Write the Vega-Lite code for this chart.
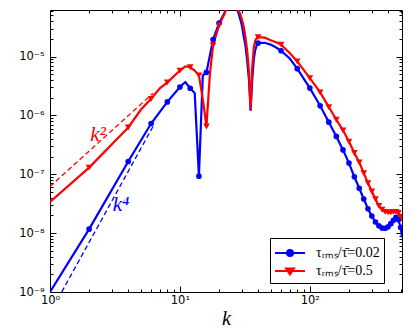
{
  "$schema": "https://vega.github.io/schema/vega-lite/v6.json",
  "width": 352,
  "height": 282,
  "autosize": {"type": "none"},
  "padding": {"left": 50, "top": 10, "right": 13, "bottom": 40},
  "background": "white",
  "config": {
    "view": {"stroke": null},
    "axis": {"grid": false, "labelFont": "DejaVu Sans", "labelFontSize": 11.5, "labelColor": "black", "domainColor": "black", "domainWidth": 1, "tickColor": "black", "tickWidth": 1, "labelFlush": false, "labelOverlap": false}
  },
  "datasets": {
    "spec": [
      {"k":1,"v":1.0e-9,"s":"0.02","m":0},{"k":2,"v":1.17e-8,"s":"0.02","m":1},{"k":4,"v":1.65e-7,"s":"0.02","m":1},{"k":6,"v":7.3e-7,"s":"0.02","m":1},{"k":8,"v":1.7e-6,"s":"0.02","m":1},{"k":10,"v":3.05e-6,"s":"0.02","m":1},{"k":11,"v":3.7e-6,"s":"0.02","m":0},{"k":12,"v":2.9e-6,"s":"0.02","m":1},{"k":13,"v":2.4e-6,"s":"0.02","m":0},{"k":14,"v":9.3e-8,"s":"0.02","m":1},{"k":15,"v":4.8e-6,"s":"0.02","m":0},{"k":16,"v":5.4e-6,"s":"0.02","m":1},{"k":18,"v":1.95e-5,"s":"0.02","m":1},{"k":20,"v":3.7e-5,"s":"0.02","m":1},{"k":22,"v":5.5e-5,"s":"0.02","m":0},{"k":23,"v":7e-5,"s":"0.02","m":0},{"k":24,"v":9e-5,"s":"0.02","m":0},{"k":25,"v":9e-5,"s":"0.02","m":0},{"k":26,"v":9e-5,"s":"0.02","m":0},{"k":27,"v":7e-5,"s":"0.02","m":0},{"k":28,"v":5.8e-5,"s":"0.02","m":0},{"k":29,"v":4.5e-5,"s":"0.02","m":0},{"k":30,"v":3.4e-5,"s":"0.02","m":0},{"k":31,"v":2.2e-5,"s":"0.02","m":0},{"k":32,"v":1.5e-5,"s":"0.02","m":0},{"k":33,"v":8.2e-6,"s":"0.02","m":0},{"k":34,"v":4e-6,"s":"0.02","m":0},{"k":35,"v":1.2e-6,"s":"0.02","m":0},{"k":36,"v":4e-6,"s":"0.02","m":0},{"k":37,"v":8.9e-6,"s":"0.02","m":0},{"k":38,"v":1.3e-5,"s":"0.02","m":0},{"k":39,"v":1.55e-5,"s":"0.02","m":0},{"k":40,"v":1.7e-5,"s":"0.02","m":1},{"k":45,"v":1.72e-5,"s":"0.02","m":0},{"k":50,"v":1.6e-5,"s":"0.02","m":0},{"k":55,"v":1.43e-5,"s":"0.02","m":0},{"k":60,"v":1.26e-5,"s":"0.02","m":1},{"k":70,"v":9.3e-6,"s":"0.02","m":0},{"k":80,"v":6.25e-6,"s":"0.02","m":1},{"k":100,"v":2.92e-6,"s":"0.02","m":1},{"k":120,"v":1.46e-6,"s":"0.02","m":1},{"k":140,"v":7.7e-7,"s":"0.02","m":1},{"k":160,"v":4.4e-7,"s":"0.02","m":1},{"k":180,"v":2.6e-7,"s":"0.02","m":1},{"k":200,"v":1.55e-7,"s":"0.02","m":1},{"k":220,"v":9.1e-8,"s":"0.02","m":1},{"k":240,"v":5.8e-8,"s":"0.02","m":1},{"k":260,"v":3.8e-8,"s":"0.02","m":1},{"k":280,"v":2.6e-8,"s":"0.02","m":1},{"k":300,"v":1.95e-8,"s":"0.02","m":1},{"k":320,"v":1.55e-8,"s":"0.02","m":1},{"k":340,"v":1.33e-8,"s":"0.02","m":1},{"k":360,"v":1.22e-8,"s":"0.02","m":1},{"k":380,"v":1.21e-8,"s":"0.02","m":1},{"k":400,"v":1.28e-8,"s":"0.02","m":1},{"k":420,"v":1.45e-8,"s":"0.02","m":1},{"k":440,"v":1.65e-8,"s":"0.02","m":1},{"k":460,"v":1.85e-8,"s":"0.02","m":1},{"k":480,"v":1.7e-8,"s":"0.02","m":1},{"k":500,"v":1.25e-8,"s":"0.02","m":1},{"k":512,"v":8.5e-9,"s":"0.02","m":0},
      {"k":1,"v":3.4e-8,"s":"0.5","m":0},{"k":2,"v":1.3e-7,"s":"0.5","m":1},{"k":4,"v":6.25e-7,"s":"0.5","m":1},{"k":5,"v":1.25e-6,"s":"0.5","m":0},{"k":6,"v":1.92e-6,"s":"0.5","m":1},{"k":7,"v":2.9e-6,"s":"0.5","m":0},{"k":8,"v":3.65e-6,"s":"0.5","m":1},{"k":10,"v":5.8e-6,"s":"0.5","m":1},{"k":11,"v":6.8e-6,"s":"0.5","m":0},{"k":12,"v":6.6e-6,"s":"0.5","m":1},{"k":13,"v":5.8e-6,"s":"0.5","m":0},{"k":14,"v":4.8e-6,"s":"0.5","m":1},{"k":15,"v":1.9e-6,"s":"0.5","m":0},{"k":16,"v":6.5e-7,"s":"0.5","m":1},{"k":17,"v":5e-6,"s":"0.5","m":0},{"k":18,"v":1.56e-5,"s":"0.5","m":1},{"k":20,"v":3.4e-5,"s":"0.5","m":1},{"k":22,"v":5.3e-5,"s":"0.5","m":0},{"k":23,"v":7e-5,"s":"0.5","m":0},{"k":24,"v":9e-5,"s":"0.5","m":0},{"k":25,"v":9e-5,"s":"0.5","m":0},{"k":26,"v":9e-5,"s":"0.5","m":0},{"k":27,"v":7.5e-5,"s":"0.5","m":0},{"k":28,"v":6.3e-5,"s":"0.5","m":0},{"k":29,"v":5.4e-5,"s":"0.5","m":0},{"k":30,"v":4.3e-5,"s":"0.5","m":0},{"k":31,"v":3.2e-5,"s":"0.5","m":0},{"k":32,"v":2.1e-5,"s":"0.5","m":0},{"k":33,"v":1.2e-5,"s":"0.5","m":0},{"k":34,"v":5.5e-6,"s":"0.5","m":0},{"k":35,"v":1.25e-6,"s":"0.5","m":0},{"k":36,"v":6.5e-6,"s":"0.5","m":0},{"k":37,"v":1.4e-5,"s":"0.5","m":0},{"k":38,"v":1.87e-5,"s":"0.5","m":0},{"k":39,"v":2.07e-5,"s":"0.5","m":0},{"k":40,"v":2.14e-5,"s":"0.5","m":1},{"k":45,"v":2.1e-5,"s":"0.5","m":0},{"k":50,"v":1.9e-5,"s":"0.5","m":0},{"k":55,"v":1.75e-5,"s":"0.5","m":0},{"k":60,"v":1.6e-5,"s":"0.5","m":1},{"k":70,"v":1.15e-5,"s":"0.5","m":0},{"k":80,"v":8.3e-6,"s":"0.5","m":1},{"k":100,"v":4.3e-6,"s":"0.5","m":1},{"k":120,"v":2.47e-6,"s":"0.5","m":1},{"k":140,"v":1.39e-6,"s":"0.5","m":1},{"k":160,"v":8.45e-7,"s":"0.5","m":1},{"k":180,"v":5.6e-7,"s":"0.5","m":1},{"k":200,"v":3.6e-7,"s":"0.5","m":1},{"k":220,"v":2.3e-7,"s":"0.5","m":1},{"k":240,"v":1.6e-7,"s":"0.5","m":1},{"k":260,"v":1.05e-7,"s":"0.5","m":1},{"k":280,"v":7.1e-8,"s":"0.5","m":1},{"k":300,"v":5.1e-8,"s":"0.5","m":1},{"k":320,"v":3.8e-8,"s":"0.5","m":1},{"k":340,"v":2.9e-8,"s":"0.5","m":1},{"k":360,"v":2.5e-8,"s":"0.5","m":1},{"k":380,"v":2.3e-8,"s":"0.5","m":1},{"k":400,"v":2.25e-8,"s":"0.5","m":1},{"k":420,"v":2.25e-8,"s":"0.5","m":1},{"k":440,"v":2.3e-8,"s":"0.5","m":1},{"k":460,"v":2.3e-8,"s":"0.5","m":1},{"k":480,"v":2.2e-8,"s":"0.5","m":1},{"k":500,"v":1.9e-8,"s":"0.5","m":1},{"k":512,"v":1.6e-8,"s":"0.5","m":0}
    ],
    "guide": [
      {"k":1,"v":6.2e-8,"s":"0.5","g":"k2"},{"k":6.2,"v":2.38e-6,"s":"0.5","g":"k2"},
      {"k":1.23,"v":1e-9,"s":"0.02","g":"k4"},{"k":6.3,"v":6.9e-7,"s":"0.02","g":"k4"}
    ],
    "ann": [
      {"k":2.34,"v":4.7e-7,"s":"0.5","t":"k²"},
      {"k":3.52,"v":3.0e-8,"s":"0.02","t":"k⁴"}
    ]
  },
  "layer": [
    {
      "data": {"name": "spec"},
      "mark": {"type": "line", "strokeWidth": 2.2, "clip": true},
      "encoding": {
        "x": {"field": "k", "type": "quantitative", "scale": {"type": "log", "domain": [1, 512], "nice": false},
          "axis": {"orient": "bottom", "values": [1,2,3,4,5,6,7,8,9,10,20,30,40,50,60,70,80,90,100,200,300,400,500],
            "labelExpr": "datum.value == 1 ? '10⁰' : datum.value == 10 ? '10¹' : datum.value == 100 ? '10²' : ''",
            "tickSize": {"condition": {"test": "abs(log(datum.value)/LN10 - round(log(datum.value)/LN10)) < 0.001", "value": -6}, "value": -3},
            "labelPadding": 8,
            "title": "k", "titleFont": "Liberation Serif", "titleFontStyle": "italic", "titleFontWeight": "normal", "titleFontSize": 20, "titlePadding": 0, "titleColor": "black"}},
        "y": {"field": "v", "type": "quantitative", "scale": {"type": "log", "domain": [1e-9, 6.2e-5], "nice": false},
          "axis": {"orient": "left", "values": [1e-9,2e-9,3e-9,4e-9,5e-9,6e-9,7e-9,8e-9,9e-9,1e-8,2e-8,3e-8,4e-8,5e-8,6e-8,7e-8,8e-8,9e-8,1e-7,2e-7,3e-7,4e-7,5e-7,6e-7,7e-7,8e-7,9e-7,1e-6,2e-6,3e-6,4e-6,5e-6,6e-6,7e-6,8e-6,9e-6,1e-5,2e-5,3e-5,4e-5,5e-5,6e-5],
            "labelExpr": "abs(log(datum.value)/LN10 - round(log(datum.value)/LN10)) > 0.001 ? '' : ['10⁻⁹','10⁻⁸','10⁻⁷','10⁻⁶','10⁻⁵'][round(log(datum.value)/LN10) + 9]",
            "tickSize": {"condition": {"test": "abs(log(datum.value)/LN10 - round(log(datum.value)/LN10)) < 0.001", "value": -6}, "value": -3},
            "labelPadding": 12, "title": null}},
        "color": {"field": "s", "type": "nominal", "scale": {"domain": ["0.02", "0.5"], "range": ["#0000ff", "#ff0000"]},
          "legend": {"orient": "none", "legendX": 220, "legendY": 228, "title": null,
            "strokeColor": "black", "fillColor": "white", "padding": 4, "cornerRadius": 0,
            "labelFont": "Liberation Serif", "labelFontSize": 14, "labelColor": "black",
            "labelExpr": "'τᵣₘₛ/τ̄=' + datum.label",
            "symbolType": {"expr": "datum.value == '0.02' ? 'M-1,0H2M0.2,0A0.3,0.3 0 1,1 0.8,0A0.3,0.3 0 1,1 0.2,0Z' : 'M-1,0H2M0.1,-0.25L0.9,-0.25L0.5,0.35Z'"},
            "symbolSize": 400, "labelOffset": 20, "rowPadding": 0, "symbolStrokeWidth": 2}},
        "detail": {"field": "s"}
      }
    },
    {
      "data": {"name": "spec"},
      "transform": [{"filter": "datum.m == 1 && datum.s == '0.02'"}],
      "mark": {"type": "point", "shape": "circle", "size": 32, "filled": true, "opacity": 1, "clip": true},
      "encoding": {
        "x": {"field": "k", "type": "quantitative", "axis": null},
        "y": {"field": "v", "type": "quantitative", "axis": null},
        "color": {"field": "s", "type": "nominal"}
      }
    },
    {
      "data": {"name": "spec"},
      "transform": [{"filter": "datum.m == 1 && datum.s == '0.5'"}],
      "mark": {"type": "point", "shape": "triangle-down", "size": 45, "filled": true, "opacity": 1, "clip": true},
      "encoding": {
        "x": {"field": "k", "type": "quantitative", "axis": null},
        "y": {"field": "v", "type": "quantitative", "axis": null},
        "color": {"field": "s", "type": "nominal"}
      }
    },
    {
      "data": {"name": "guide"},
      "mark": {"type": "line", "strokeWidth": 1.3, "strokeDash": [5, 3], "clip": true},
      "encoding": {
        "x": {"field": "k", "type": "quantitative", "axis": null},
        "y": {"field": "v", "type": "quantitative", "axis": null},
        "color": {"field": "s", "type": "nominal"},
        "detail": {"field": "g"}
      }
    },
    {
      "data": {"name": "ann"},
      "mark": {"type": "text", "font": "Liberation Serif", "fontStyle": "italic", "fontSize": 21, "align": "center", "baseline": "middle"},
      "encoding": {
        "x": {"field": "k", "type": "quantitative", "axis": null},
        "y": {"field": "v", "type": "quantitative", "axis": null},
        "text": {"field": "t"},
        "color": {"field": "s", "type": "nominal"}
      }
    },
    {
      "data": {"name": "guide"},
      "mark": {"type": "point", "opacity": 0},
      "encoding": {
        "x": {"field": "k", "type": "quantitative",
          "axis": {"orient": "top", "values": [1,2,3,4,5,6,7,8,9,10,20,30,40,50,60,70,80,90,100,200,300,400,500], "labels": false, "title": null,
            "tickSize": {"condition": {"test": "abs(log(datum.value)/LN10 - round(log(datum.value)/LN10)) < 0.001", "value": -6}, "value": -3}}},
        "y": {"field": "v", "type": "quantitative",
          "axis": {"orient": "right", "values": [1e-9,2e-9,3e-9,4e-9,5e-9,6e-9,7e-9,8e-9,9e-9,1e-8,2e-8,3e-8,4e-8,5e-8,6e-8,7e-8,8e-8,9e-8,1e-7,2e-7,3e-7,4e-7,5e-7,6e-7,7e-7,8e-7,9e-7,1e-6,2e-6,3e-6,4e-6,5e-6,6e-6,7e-6,8e-6,9e-6,1e-5,2e-5,3e-5,4e-5,5e-5,6e-5], "labels": false, "title": null,
            "tickSize": {"condition": {"test": "abs(log(datum.value)/LN10 - round(log(datum.value)/LN10)) < 0.001", "value": -6}, "value": -3}}}
      }
    }
  ],
  "resolve": {"axis": {"x": "independent", "y": "independent"}}
}
